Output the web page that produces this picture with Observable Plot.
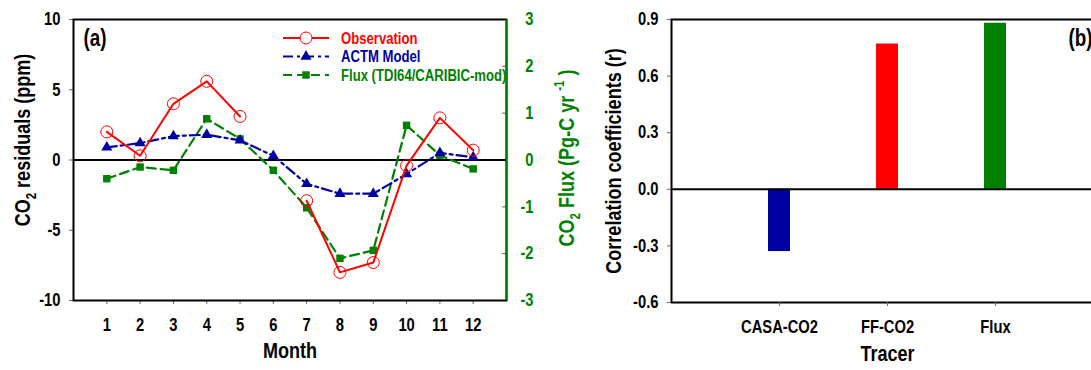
<!DOCTYPE html>
<html>
<head>
<meta charset="utf-8">
<script src="https://cdn.jsdelivr.net/npm/d3@7"></script>
<script src="https://cdn.jsdelivr.net/npm/@observablehq/plot@0.6"></script>
<style>
  html, body { margin: 0; padding: 0; background: #fff; overflow: hidden; }
  #wrap { position: relative; width: 1091px; height: 370px; overflow: hidden; }
  .panel { position: absolute; top: 0; }
</style>
</head>
<body>
<div id="wrap"></div>
<script>
// ---- Panel (a): monthly CO2 residuals and flux ----
const months = [1, 2, 3, 4, 5, 6, 7, 8, 9, 10, 11, 12];
const observation = [2.0, 0.3, 4.0, 5.6, 3.1, null, -2.9, -8.0, -7.3, -0.4, 3.0, 0.7]; // ppm
const actmModel = [0.9, 1.2, 1.7, 1.8, 1.4, 0.3, -1.7, -2.4, -2.4, -1.0, 0.5, 0.2];    // ppm
const fluxTDI64 = [-0.4, -0.15, -0.22, 0.88, 0.45, -0.22, -1.02, -2.1, -1.93, 0.74, 0.1, -0.19]; // Pg-C/yr
const residualTicks = [-10, -5, 0, 5, 10];
const fluxTicks = [-3, -2, -1, 0, 1, 2, 3];

// ---- Panel (b): correlation coefficients per tracer ----
const tracers = ["CASA-CO2", "FF-CO2", "Flux"];
const correlations = [-0.33, 0.77, 0.88];
const tracerColors = ["#0000a0", "#ff0000", "#008000"];
const correlationTicks = [-0.6, -0.3, 0, 0.3, 0.6, 0.9];

const FONT = '"Liberation Sans", Arial, sans-serif';
const NARROW = 0.82; // horizontal squeeze giving a narrow bold face
const RED = "#ff0000", BLUE = "#0000a0", GREEN = "#008000", TICK = "#666";
const fluxToPpm = 10 / 3; // flux axis [-3, 3] shares the residual axis [-10, 10]

const monthly = months.map((m, i) => ({month: m, obs: observation[i], actm: actmModel[i], flux: fluxTDI64[i]}));

const baseStyle = {fontFamily: FONT, fontWeight: "bold", fontSize: "18px", background: "transparent", overflow: "visible"};

// Replace a plain SVG text with tspans for sub/superscripts
function richText(svg, plain, parts, size) {
  for (const node of svg.querySelectorAll("text")) {
    if (node.textContent !== plain) continue;
    const t = d3.select(node);
    t.text(null);
    let shift = 0;
    for (const p of parts) {
      const target = p.sub ? 0.3 * size : p.sup ? -0.45 * size : 0;
      const ts = t.append("tspan").text(p.t);
      if (target !== shift) ts.attr("dy", target - shift);
      if (p.sub || p.sup) ts.attr("font-size", Math.round(size * 0.65));
      shift = target;
    }
  }
}

// Compress every label horizontally about its own anchor point
function squeeze(svg) {
  for (const node of svg.querySelectorAll("text")) {
    const tr = node.getAttribute("transform") || "";
    node.setAttribute("transform", `${tr} scale(${NARROW},1)`);
  }
}

const left = Plot.plot({
  width: 600,
  height: 370,
  marginLeft: 73,
  marginRight: 94,
  marginTop: 19,
  marginBottom: 70,
  style: baseStyle,
  x: {domain: [0, 13]},
  y: {domain: [-10, 10]},
  marks: [
    Plot.axisX({ticks: months, tickFormat: String, tickSize: 4, tickPadding: 14, stroke: TICK, fill: "black", fontSize: 18, label: null}),
    Plot.axisY({ticks: residualTicks, tickFormat: String, anchor: "left", tickSize: 4, tickPadding: 9, stroke: TICK, fill: "black", fontSize: 18, label: null}),
    Plot.axisY({
      ticks: fluxTicks.map(v => v * fluxToPpm),
      tickFormat: v => String(Math.round(v / fluxToPpm)),
      anchor: "right", tickSize: -5, tickPadding: 32, textAnchor: "end",
      stroke: TICK, fill: GREEN, fontSize: 18, label: null
    }),
    Plot.ruleY([0], {stroke: "black", strokeWidth: 2}),
    Plot.frame({stroke: "black", strokeWidth: 2}),
    Plot.ruleX([13], {stroke: GREEN, strokeWidth: 2}),
    // Flux (right axis)
    Plot.line(monthly, {x: "month", y: d => d.flux * fluxToPpm, stroke: GREEN, strokeWidth: 2.2, strokeDasharray: "9,5"}),
    Plot.dot(monthly, {x: "month", y: d => d.flux * fluxToPpm, symbol: "square", r: 4.2, fill: GREEN, stroke: "none"}),
    // ACTM model
    Plot.line(monthly, {x: "month", y: "actm", stroke: BLUE, strokeWidth: 2.2, strokeDasharray: "10,4,3,4"}),
    Plot.dot(monthly, {x: "month", y: "actm", symbol: "triangle", r: 4.1, fill: BLUE, stroke: "none"}),
    // Observation
    Plot.line(monthly, {x: "month", y: "obs", stroke: RED, strokeWidth: 2}),
    Plot.dot(monthly, {x: "month", y: "obs", r: 6, fill: "none", stroke: RED, strokeWidth: 1}),
    // Titles
    Plot.text(["CO2 residuals (ppm)"], {text: d => d, frameAnchor: "left", textAnchor: "middle", rotate: -90, dx: -51, dy: -20, fontSize: 22, fill: "black"}),
    Plot.text(["CO2 Flux (Pg-C yr-1 )"], {text: d => d, frameAnchor: "right", textAnchor: "middle", rotate: -90, dx: 60, dy: -2, fontSize: 22, fill: GREEN}),
    Plot.text(["Month"], {text: d => d, frameAnchor: "bottom", lineAnchor: "top", dy: 42, fontSize: 22, fill: "black"}),
    Plot.text(["(a)"], {text: d => d, frameAnchor: "top-left", textAnchor: "start", lineAnchor: "top", dx: 10, dy: 10, fontSize: 23, fill: "black"})
  ]
});
left.classList.add("panel");
left.style.left = "0px";
richText(left, "CO2 residuals (ppm)", [{t: "CO"}, {t: "2", sub: true}, {t: " residuals (ppm)"}], 22);
richText(left, "CO2 Flux (Pg-C yr-1 )", [{t: "CO"}, {t: "2", sub: true}, {t: " Flux (Pg-C yr "}, {t: "-1", sup: true}, {t: " )"}], 22);
squeeze(left);

const right = Plot.plot({
  width: 520,
  height: 370,
  marginLeft: 81,
  marginRight: 7,
  marginTop: 19,
  marginBottom: 68,
  style: baseStyle,
  color: {type: "identity"},
  x: {type: "band", domain: tracers, paddingInner: 0.8, paddingOuter: 0.9},
  y: {domain: [-0.6, 0.9]},
  marks: [
    Plot.barY(tracers.map((t, i) => ({tracer: t, r: correlations[i], color: tracerColors[i]})), {x: "tracer", y: "r", fill: "color"}),
    Plot.ruleY([0], {stroke: "black", strokeWidth: 2}),
    Plot.frame({stroke: "black", strokeWidth: 2}),
    Plot.axisX({tickSize: 4, tickPadding: 14, stroke: TICK, fill: "black", fontSize: 18, label: null}),
    Plot.axisY({ticks: correlationTicks, tickFormat: v => v.toFixed(1), anchor: "left", tickSize: 4, tickPadding: 9, stroke: TICK, fill: "black", fontSize: 18, label: null}),
    Plot.text(["Correlation coefficients (r)"], {text: d => d, frameAnchor: "left", textAnchor: "middle", rotate: -90, dx: -58, dy: 0, fontSize: 22, fill: "black"}),
    Plot.text(["Tracer"], {text: d => d, frameAnchor: "bottom", lineAnchor: "top", dy: 43, fontSize: 22, fill: "black"}),
    Plot.text(["(b)"], {text: d => d, frameAnchor: "top-right", textAnchor: "start", lineAnchor: "top", dx: -35, dy: 10, fontSize: 23, fill: "black"})
  ]
});
right.classList.add("panel");
right.style.left = "590px";
squeeze(right);

const wrap = document.getElementById("wrap");
wrap.appendChild(left);
wrap.appendChild(right);

// Legend for panel (a)
const legendItems = [
  {label: "Observation", color: RED, dash: null, symbol: d3.symbolCircle, size: Math.PI * 36, filled: false},
  {label: "ACTM Model", color: BLUE, dash: "10,4,3,4", symbol: d3.symbolTriangle, size: Math.PI * 4.1 * 4.1, filled: true},
  {label: "Flux (TDI64/CARIBIC-mod)", color: GREEN, dash: "9,5", symbol: d3.symbolSquare, size: Math.PI * 4.2 * 4.2, filled: true}
];
const legend = d3.create("svg")
  .attr("class", "panel")
  .attr("width", 240).attr("height", 60)
  .style("left", "280px").style("top", "28px")
  .style("font-family", FONT).style("font-weight", "bold").style("font-size", "16px");
const rows = legend.selectAll("g").data(legendItems).join("g")
  .attr("transform", (d, i) => `translate(0,${10 + i * 18.5})`);
rows.append("line").attr("x1", 3).attr("x2", 49).attr("stroke", d => d.color).attr("stroke-width", 2)
  .attr("stroke-dasharray", d => d.dash);
rows.append("path").attr("transform", "translate(26,0)")
  .attr("d", d => d3.symbol(d.symbol, d.size)())
  .attr("fill", d => d.filled ? d.color : "white")
  .attr("stroke", d => d.filled ? "none" : d.color);
rows.append("text").attr("transform", `translate(61,0) scale(${NARROW},1)`).attr("dy", "0.35em")
  .attr("fill", d => d.color).text(d => d.label);
wrap.appendChild(legend.node());
</script>
</body>
</html>
